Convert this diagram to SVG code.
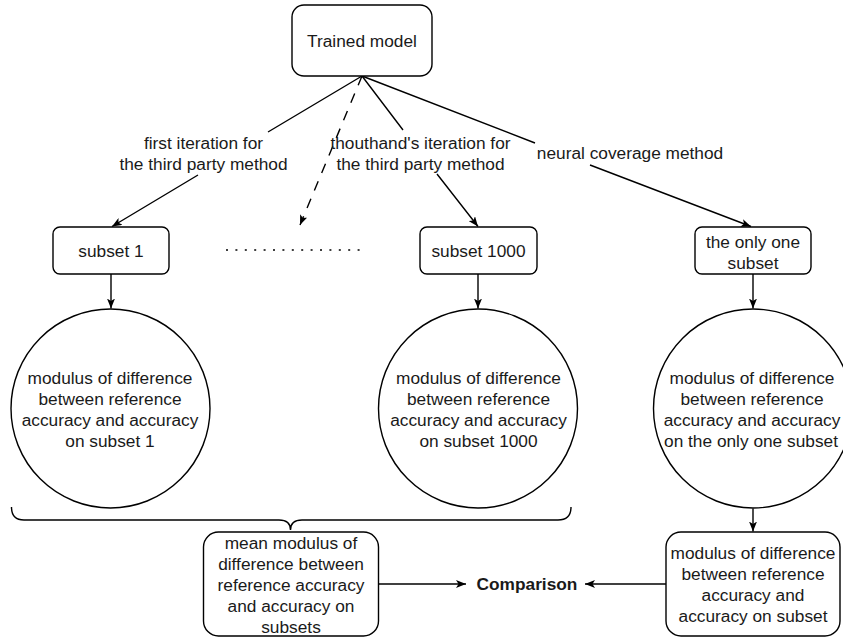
<svg xmlns="http://www.w3.org/2000/svg" width="843" height="639" viewBox="0 0 843 639">
<style>
  .box { fill: #ffffff; stroke: #000000; stroke-width: 1.4; }
  .edge { fill: none; stroke: #000000; stroke-width: 1.4; }
  .t { font-family: "Liberation Sans", Arial, sans-serif; font-size: 17.3px; fill: #1a1a1a; text-anchor: middle; }
  .b { font-weight: bold; }
</style>
<defs>
  <marker id="arr" viewBox="0 0 10 8" refX="10" refY="4" markerWidth="10" markerHeight="8" markerUnits="userSpaceOnUse" orient="auto">
    <path d="M0,0 L10,4 L0,8 L2.5,4 z" fill="#000000" stroke="none"/>
  </marker>
</defs>
<rect width="843" height="639" fill="#ffffff"/>

<g id="connectors">
  <path class="edge" d="M362,76 L268,132 M198,175 L112,226.5" marker-end="url(#arr)"/>
  <path class="edge" d="M362,76 L300,225" stroke-dasharray="10 9" marker-end="url(#arr)"/>
  <path class="edge" d="M362,76 L403,130 M437,174 L478,226.5" marker-end="url(#arr)"/>
  <path class="edge" d="M362,76 L535,143 M590,165 L751,226.5" marker-end="url(#arr)"/>
  <path class="edge" d="M226,250 L360,250" stroke-width="2" stroke-dasharray="2 7.4"/>
  <path class="edge" d="M111,274 L111,308.5" marker-end="url(#arr)"/>
  <path class="edge" d="M478,274 L478,308.5" marker-end="url(#arr)"/>
  <path class="edge" d="M753,274 L753,308.5" marker-end="url(#arr)"/>
  <path class="edge" d="M753,508.5 L753,531.5" marker-end="url(#arr)"/>
  <path class="edge" d="M378,584 L466,584" marker-end="url(#arr)"/>
  <path class="edge" d="M666,584 L585,584" marker-end="url(#arr)"/>
  <path class="edge" d="M11.5,507 Q11.5,520 24,520 L279,520 Q290.5,520 290.5,530 Q290.5,520 302,520 L558,520 Q571,520 571,507"/>
</g>

<g id="edge-labels">
  <text class="t" x="203.5" y="149">first iteration for</text>
  <text class="t" x="203.5" y="170">the third party method</text>
  <text class="t" x="420.5" y="149">thouthand's iteration for</text>
  <text class="t" x="420.5" y="170">the third party method</text>
  <text class="t" x="630" y="159">neural coverage method</text>
</g>

<g id="trained-model">
  <rect class="box" x="292" y="5" width="140" height="71" rx="12"/>
  <text class="t" x="362" y="46.5">Trained model</text>
</g>

<g id="subset-1">
  <rect class="box" x="53" y="227" width="116" height="47" rx="7"/>
  <text class="t" x="111" y="256.5">subset 1</text>
</g>

<g id="subset-1000">
  <rect class="box" x="420" y="227" width="117" height="47" rx="7"/>
  <text class="t" x="478.5" y="256.5">subset 1000</text>
</g>

<g id="only-one-subset">
  <rect class="box" x="695" y="227" width="116" height="47" rx="7"/>
  <text class="t" x="753" y="248">the only one</text>
  <text class="t" x="753" y="269">subset</text>
</g>

<g id="circle-1">
  <circle class="box" cx="110.5" cy="408.5" r="99.5"/>
  <text class="t" x="110" y="384">modulus of difference</text>
  <text class="t" x="110" y="405">between reference</text>
  <text class="t" x="110" y="426">accuracy and accuracy</text>
  <text class="t" x="110" y="447">on subset 1</text>
</g>

<g id="circle-1000">
  <circle class="box" cx="478" cy="408.5" r="99.5"/>
  <text class="t" x="478.5" y="384">modulus of difference</text>
  <text class="t" x="478.5" y="405">between reference</text>
  <text class="t" x="478.5" y="426">accuracy and accuracy</text>
  <text class="t" x="478.5" y="447">on subset 1000</text>
</g>

<g id="circle-only-one">
  <circle class="box" cx="753" cy="408.5" r="99.5"/>
  <text class="t" x="752" y="384">modulus of difference</text>
  <text class="t" x="752" y="405">between reference</text>
  <text class="t" x="752" y="426">accuracy and accuracy</text>
  <text class="t" x="751" y="447">on the only one subset</text>
</g>

<g id="mean-modulus">
  <rect class="box" x="203.5" y="532" width="175" height="104" rx="15"/>
  <text class="t" x="291" y="549">mean modulus of</text>
  <text class="t" x="291" y="570">difference between</text>
  <text class="t" x="291" y="591">reference accuracy</text>
  <text class="t" x="291" y="612">and accuracy on</text>
  <text class="t" x="291" y="633">subsets</text>
</g>

<g id="comparison">
  <text class="t b" x="527" y="590">Comparison</text>
</g>

<g id="modulus-subset">
  <rect class="box" x="666" y="532" width="174" height="104" rx="15"/>
  <text class="t" x="753" y="559">modulus of difference</text>
  <text class="t" x="753" y="580">between reference</text>
  <text class="t" x="753" y="601">accuracy and</text>
  <text class="t" x="753" y="622">accuracy on subset</text>
</g>
</svg>
